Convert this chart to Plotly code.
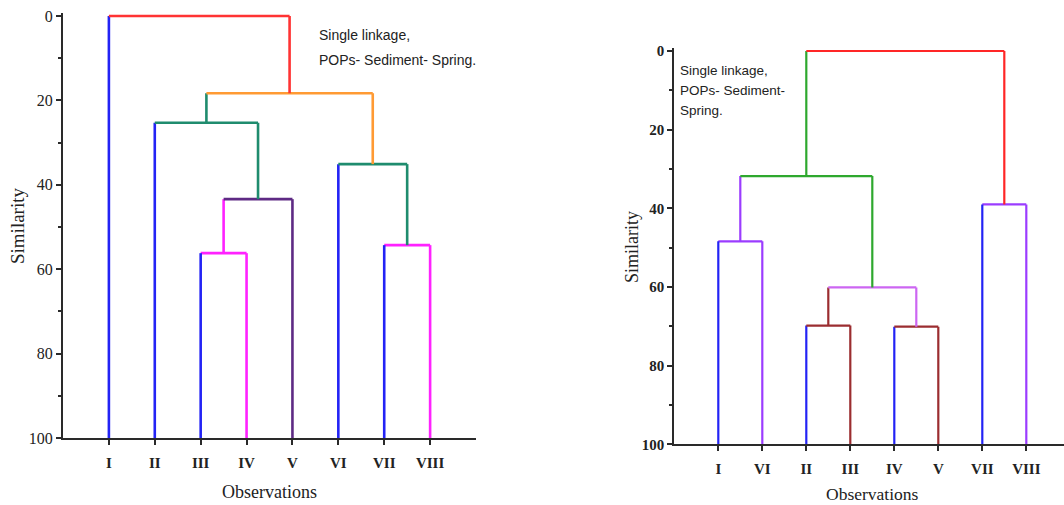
import plotly.graph_objects as go

W, H = 1064, 505

# ---------------- data ----------------
# Left dendrogram (leaf order as drawn)
left_leaves = ["I", "II", "III", "IV", "V", "VI", "VII", "VIII"]
left_merge_a = ["III", "M1", "II", "VII", "VI", "M3", "I"]
left_merge_b = ["IV", "V", "M2", "VIII", "M4", "M5", "M6"]
left_heights = [56.2, 43.4, 25.3, 54.3, 35.1, 18.3, 0.0]

# Right dendrogram (leaf order as drawn)
right_leaves = ["I", "VI", "II", "III", "IV", "V", "VII", "VIII"]
right_merge_a = ["I", "II", "IV", "M2", "M1", "VII", "M5"]
right_merge_b = ["VI", "III", "V", "M3", "M4", "VIII", "M6"]
right_heights = [48.4, 69.8, 70.1, 60.1, 31.8, 39.0, 0.0]

y_ticks = [0, 20, 40, 60, 80, 100]

# ---------------- styles ----------------
left_colors = ["#FF22FF", "#5E2A84", "#1F8C6E", "#FF22FF", "#1F8C6E", "#FF9A33", "#FF3333"]
right_colors = ["#9B3CFF", "#9B2D30", "#9B2D30", "#CC66F2", "#2EA82E", "#9B3CFF", "#FF2626"]
leaf_color = "#2323F5"
AX = "#2a2a2a"


def segments(leaves, ma, mb, heights, colors):
    xpos = {name: i + 1 for i, name in enumerate(leaves)}
    hgt = {name: 100.0 for name in leaves}
    col = {name: leaf_color for name in leaves}
    segs = {}

    def add(c, xs, ys):
        s = segs.setdefault(c, ([], []))
        s[0].extend(xs + [None])
        s[1].extend(ys + [None])

    for k, (a, b, h, c) in enumerate(zip(ma, mb, heights, colors)):
        name = "M%d" % (k + 1)
        xa, xb = xpos[a], xpos[b]
        add(c, [xa, xb], [h, h])                 # horizontal bar
        add(col[a], [xa, xa], [h, hgt[a]])       # left leg (child colour)
        add(c, [xb, xb], [h, hgt[b]])            # right leg (merge colour)
        xpos[name] = (xa + xb) / 2
        hgt[name] = h
        col[name] = c
    return segs


fig = go.Figure()

for segs, xa, ya, lw in [
    (segments(left_leaves, left_merge_a, left_merge_b, left_heights, left_colors), "x", "y", 2.6),
    (segments(right_leaves, right_merge_a, right_merge_b, right_heights, right_colors), "x2", "y2", 2.2),
]:
    for c, (xs, ys) in segs.items():
        fig.add_trace(go.Scatter(x=xs, y=ys, mode="lines", xaxis=xa, yaxis=ya,
                                 line=dict(color=c, width=lw), hoverinfo="skip",
                                 showlegend=False))


def px(x):
    return x / W


def py(y):
    return 1 - y / H


# pixel geometry
L_y0, L_y100 = 16.0, 438.0
R_y0, R_y100 = 51.0, 444.3
top_pad = 0.7
L_top = L_y0 - top_pad * (L_y100 - L_y0) / 100
R_top = R_y0 - top_pad * (R_y100 - R_y0) / 100

serif = "Liberation Serif, Times New Roman, serif"
sans = "Liberation Sans, Arial, sans-serif"

common_x = dict(showline=True, linecolor=AX, linewidth=2, ticks="outside", ticklen=5,
                tickwidth=1.5, tickcolor=AX, showgrid=False, zeroline=False,
                fixedrange=True, ticklabelstandoff=5, automargin=False)
common_y = dict(showline=True, linecolor=AX, linewidth=2, ticks="outside", ticklen=5,
                tickwidth=1.5, tickcolor=AX, showgrid=False, zeroline=False,
                tickvals=y_ticks, fixedrange=True, automargin=False,
                minor=dict(dtick=10, tick0=0, ticks="outside", ticklen=3, tickcolor=AX, tickwidth=1.5))

fig.update_layout(
    width=W, height=H, autosize=False,
    margin=dict(l=0, r=0, t=0, b=0, autoexpand=False),
    paper_bgcolor="white", plot_bgcolor="white",
    xaxis=dict(domain=[px(63), px(476)], range=[0, 9], anchor="y",
               tickvals=list(range(1, 9)),
               ticktext=["<b>%s</b>" % s for s in left_leaves],
               tickfont=dict(family=serif, size=15, color="#222"), **common_x),
    yaxis=dict(domain=[py(L_y100), py(L_top)], range=[100, -top_pad], anchor="x",
               ticktext=[str(v) for v in y_ticks],
               tickfont=dict(family=serif, size=16, color="#222"), **common_y),
    xaxis2=dict(domain=[px(674.3), 1.0], range=[0, (1064 - 674.3) / 44.0], anchor="y2",
                tickvals=list(range(1, 9)),
                ticktext=["<b>%s</b>" % s for s in right_leaves],
                tickfont=dict(family=serif, size=15, color="#222"), **common_x),
    yaxis2=dict(domain=[py(R_y100), py(R_top)], range=[100, -top_pad], anchor="x2",
                ticktext=["<b>%d</b>" % v for v in y_ticks],
                tickfont=dict(family=serif, size=15, color="#222"), **common_y),
)

ann = []
# axis titles
ann.append(dict(text="Similarity", x=px(18), y=py(226), textangle=-90,
                font=dict(family=serif, size=19, color="#222")))
ann.append(dict(text="Observations", x=px(269), y=py(492),
                font=dict(family=serif, size=18, color="#222")))
ann.append(dict(text="Similarity", x=px(632), y=py(247), textangle=-90,
                font=dict(family=serif, size=18, color="#222")))
ann.append(dict(text="Observations", x=px(872), y=py(494),
                font=dict(family=serif, size=17.5, color="#222")))
# notes
for txt, x, y, s in [("Single linkage,", 317, 35, 14),
                     ("POPs- Sediment- Spring.", 317, 60, 14),
                     ("Single linkage,", 677.5, 70, 13.5),
                     ("POPs- Sediment-", 677.5, 91, 13.5),
                     ("Spring.", 677.5, 111, 13.5)]:
    ann.append(dict(text=txt, x=px(x), y=py(y), xanchor="left",
                    font=dict(family=sans, size=s, color="#222")))

for a in ann:
    a.setdefault("xanchor", "center")
    a.update(xref="paper", yref="paper", yanchor="middle", showarrow=False)
fig.update_layout(annotations=ann)

fig.write_html("out.html", config={"displayModeBar": False})
